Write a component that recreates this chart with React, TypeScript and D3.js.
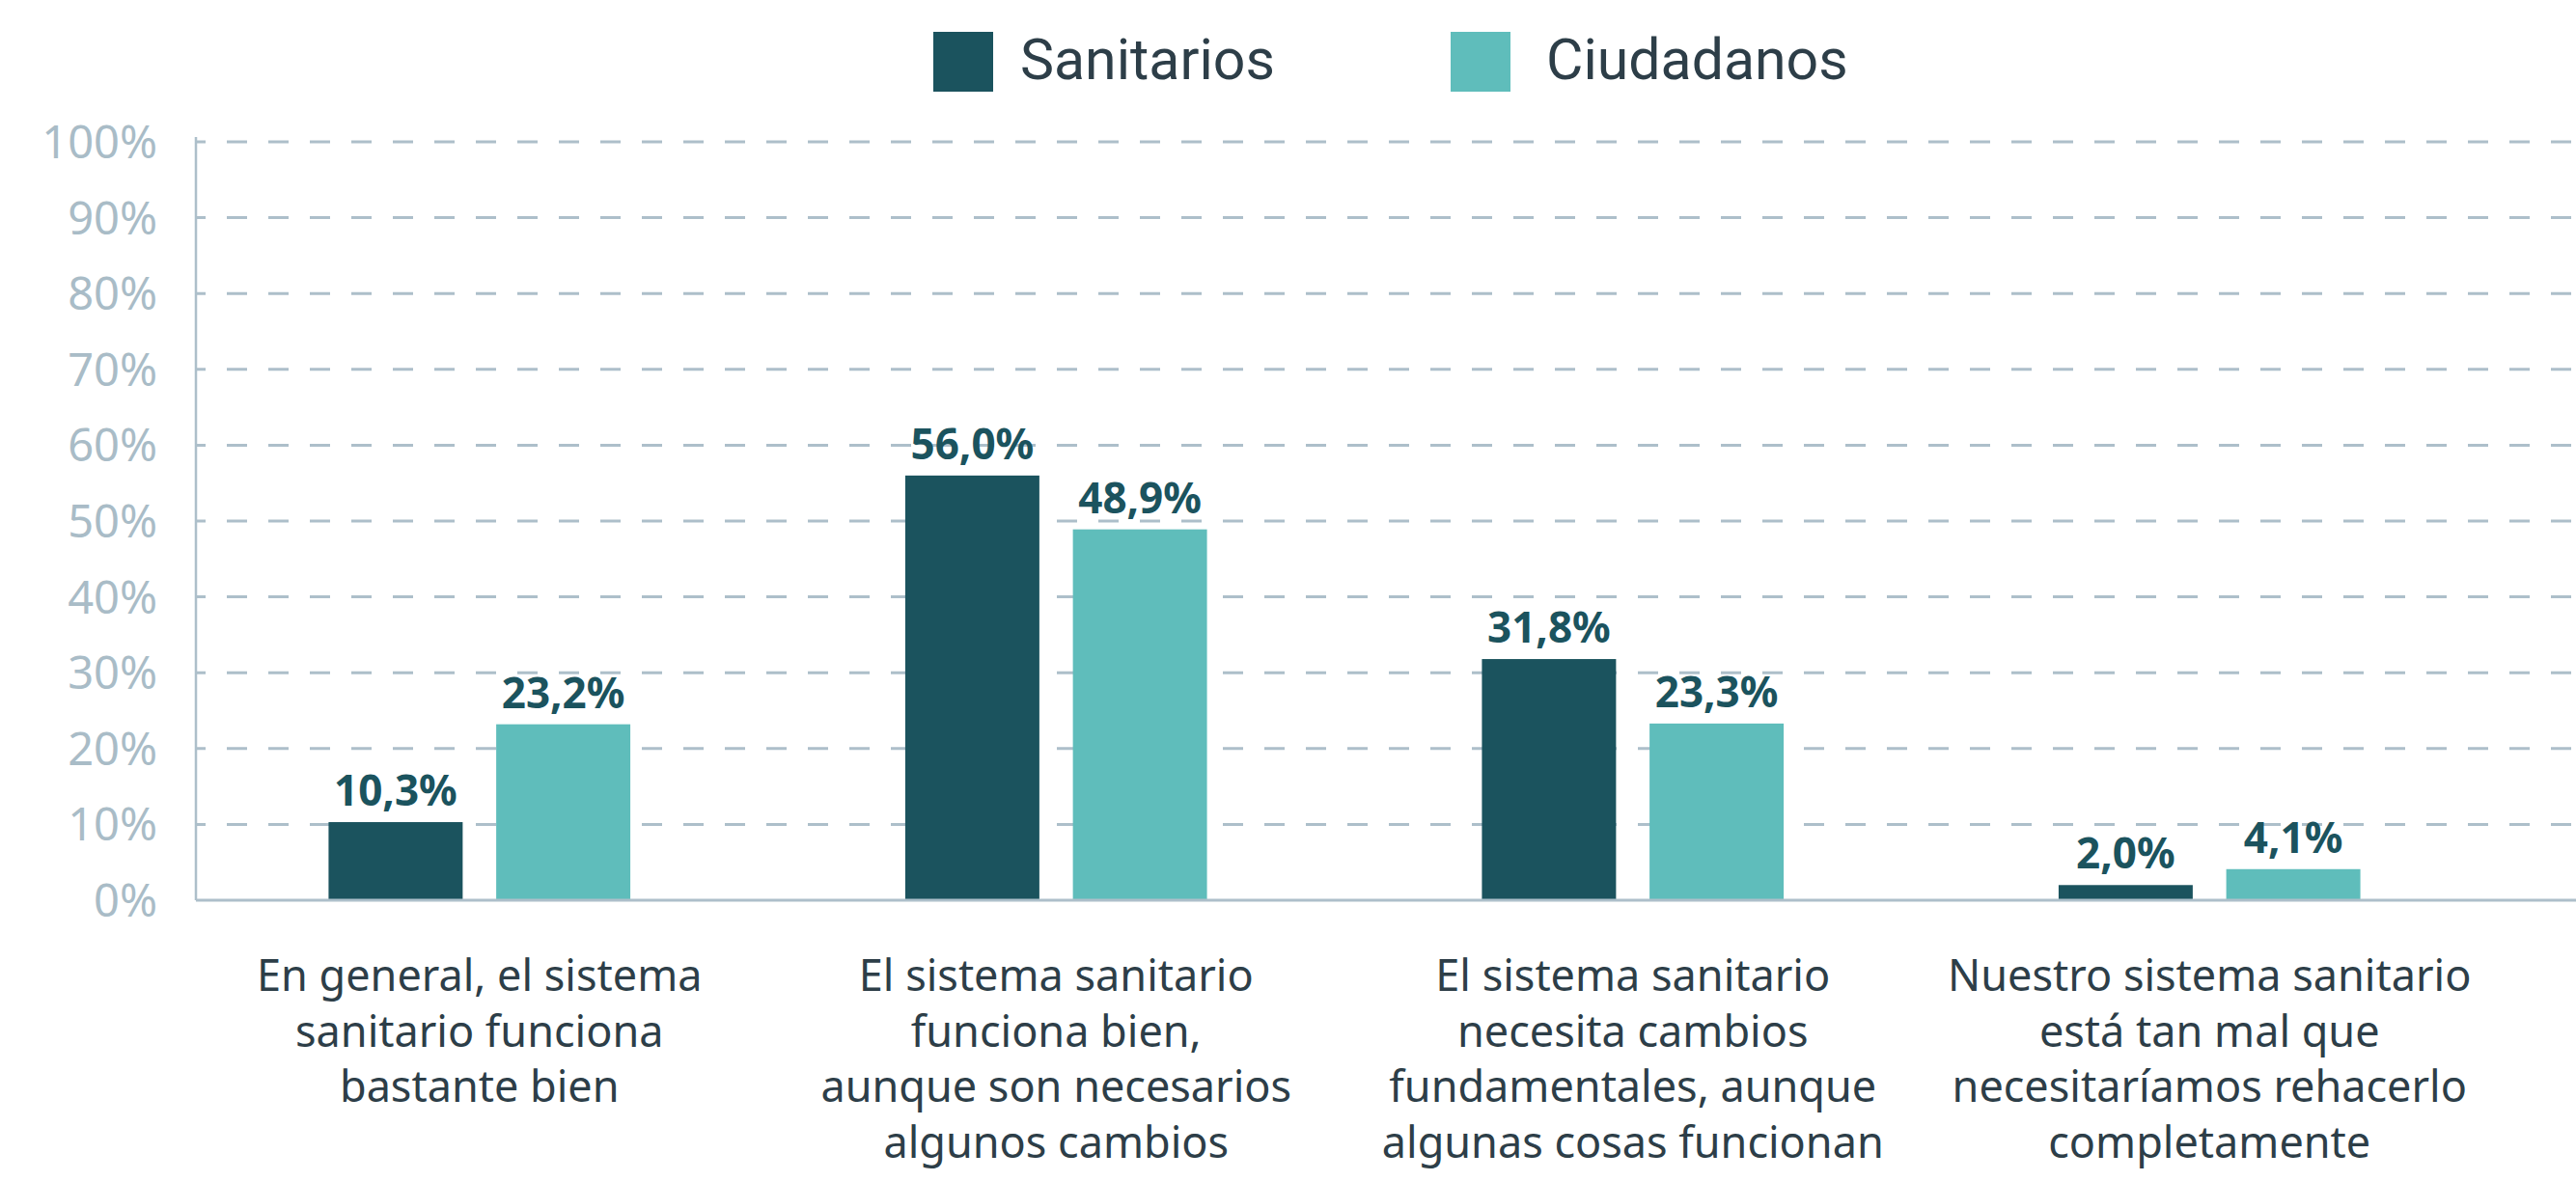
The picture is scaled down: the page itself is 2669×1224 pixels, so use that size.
import React from "react";
import * as d3 from "d3";

const categories = [
  ["En general, el sistema", "sanitario funciona", "bastante bien"],
  ["El sistema sanitario", "funciona bien,", "aunque son necesarios", "algunos cambios"],
  ["El sistema sanitario", "necesita cambios", "fundamentales, aunque", "algunas cosas funcionan"],
  ["Nuestro sistema sanitario", "está tan mal que", "necesitaríamos rehacerlo", "completamente"],
];
const seriesNames = ["Sanitarios", "Ciudadanos"];
const sanitarios = [10.3, 56.0, 31.8, 2.0];
const ciudadanos = [23.2, 48.9, 23.3, 4.1];
const yTicks = [0, 10, 20, 30, 40, 50, 60, 70, 80, 90, 100];

const W = 2669;
const H = 1224;
const DARK = "#1b535e";
const LIGHT = "#5fbdbb";
const GRID = "#adbfca";
const TEXT = "#2d3e48";
const FONT = "Roboto, 'Noto Sans', sans-serif";
const FONT2 = "'Noto Sans', Roboto, sans-serif";

export default function App() {
  const catIdx = categories.map((_, i) => String(i));
  const x0 = d3.scaleBand<string>().domain(catIdx).range([198, 2588]).paddingInner(0).paddingOuter(0);
  const x1 = d3
    .scaleBand<string>()
    .domain(seriesNames)
    .range([0, x0.bandwidth()])
    .paddingInner(0.2)
    .paddingOuter(0.82);
  const y = d3.scaleLinear().domain([0, 100]).range([933, 147]);
  const fmt = (v: number) => d3.format(".1f")(v).replace(".", ",") + "%";
  const colors = d3.scaleOrdinal<string, string>().domain(seriesNames).range([DARK, LIGHT]);
  const values = [sanitarios, ciudadanos];

  const axisX = 203;
  const legendX = [967, 1503];

  return (
    <svg
      width={W}
      height={H}
      style={{ position: "absolute", left: 0, top: 0, background: "#fff" }}
      fontFamily={FONT}
    >
      <rect x={0} y={0} width={W} height={H} fill="#fff" />
      {/* legend */}
      {seriesNames.map((s, i) => (
        <g key={s}>
          <rect x={legendX[i]} y={33} width={62} height={62} fill={colors(s)} />
          <text
            x={legendX[i] + 90 + (i === 1 ? 9 : 0)}
            y={82}
            fontSize={59}
            fill={TEXT}
          >
            {s}
          </text>
        </g>
      ))}
      {/* gridlines */}
      {yTicks
        .filter((t) => t > 0)
        .map((t) => (
          <line
            key={t}
            x1={axisX}
            x2={W}
            y1={y(t)}
            y2={y(t)}
            stroke={GRID}
            strokeWidth={3}
            strokeDasharray="21 22"
            strokeDashoffset={11}
          />
        ))}
      {/* y tick labels */}
      {yTicks.map((t) => (
        <text
          key={t}
          x={163}
          y={y(t)}
          dy="0.36em"
          textAnchor="end"
          fontSize={47}
          fontFamily={FONT2}
          fill="#a9bcc7"
        >
          {t}%
        </text>
      ))}
      {/* bars */}
      {categories.map((_, ci) =>
        seriesNames.map((s, si) => {
          const v = values[si][ci];
          const bx = (x0(String(ci)) as number) + (x1(s) as number);
          return (
            <g key={ci + s}>
              <rect
                x={bx}
                y={y(v)}
                width={x1.bandwidth()}
                height={y(0) - y(v)}
                fill={colors(s)}
              />
              <text
                x={bx + x1.bandwidth() / 2}
                y={y(v) - 17}
                textAnchor="middle"
                fontSize={44}
                fontWeight={700}
                fontFamily={FONT2}
                fill={DARK}
              >
                {fmt(v)}
              </text>
            </g>
          );
        })
      )}
      {/* axes */}
      <line x1={axisX} x2={axisX} y1={142} y2={y(0)} stroke={GRID} strokeWidth={2.5} />
      <line x1={axisX} x2={W} y1={y(0)} y2={y(0)} stroke={GRID} strokeWidth={3} />
      {/* category labels */}
      {categories.map((lines, ci) => (
        <text
          key={ci}
          x={(x0(String(ci)) as number) + x0.bandwidth() / 2}
          y={1027}
          textAnchor="middle"
          fontSize={45}
          fontFamily={FONT2}
          fill={TEXT}
        >
          {lines.map((l, li) => (
            <tspan key={li} x={(x0(String(ci)) as number) + x0.bandwidth() / 2} dy={li === 0 ? 0 : 57.5}>
              {l}
            </tspan>
          ))}
        </text>
      ))}
    </svg>
  );
}
